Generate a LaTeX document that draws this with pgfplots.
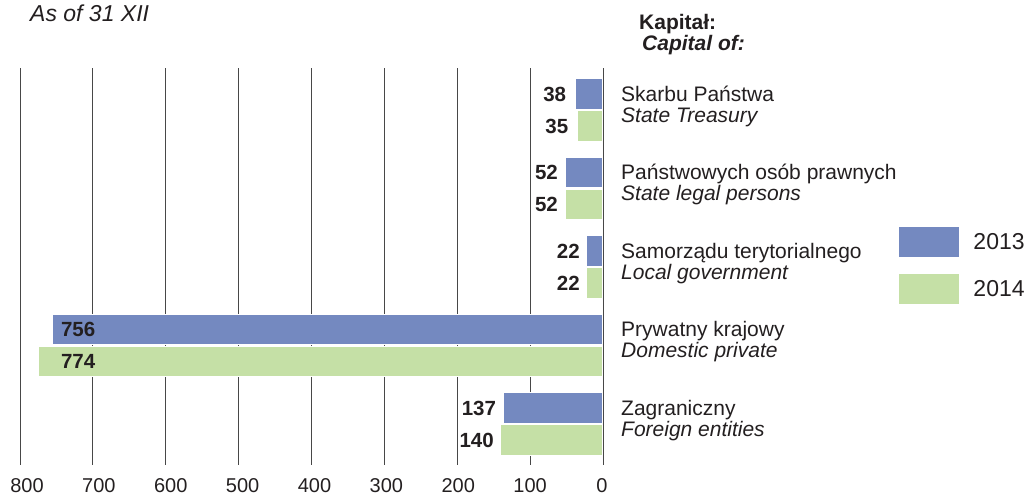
\documentclass[border=0pt]{standalone}
\usepackage{fontspec}
\setmainfont{Liberation Sans}
\usepackage{pgfplots}
\pgfplotsset{compat=1.18}
\definecolor{bblue}{RGB}{116,137,192}
\definecolor{bgreen}{RGB}{197,224,166}
\definecolor{txt}{RGB}{35,31,32}
\newcommand\cat{\fontsize{21pt}{25pt}\selectfont}
\newcommand\val{\fontsize{20.5pt}{24pt}\selectfont\bfseries}
\begin{document}
\begin{tikzpicture}
\begin{axis}[
  scale only axis, width=583pt, height=397pt,
  x dir=reverse, y dir=reverse,
  xmin=0, xmax=800, ymin=-0.535, ymax=4.522,
  xtick={0,100,...,800}, ytick=\empty,
  xmajorgrids, grid style={line width=0.9pt, color=black!72},
  axis line style={draw=none}, major tick length=0pt,
  /pgf/number format/assume math mode=true,
  tick label style={font=\fontsize{20pt}{24pt}\selectfont, text=txt},
  xticklabel style={anchor=north, inner sep=0pt, yshift=-13pt},
  xticklabel={\pgfmathparse{0.02*\tick-2}\hspace*{\pgfmathresult pt}\pgfmathprintnumber{\tick}},
  clip=false,
  xbar, bar width=0.39, bar shift=0pt,
  legend cell align=left,
  legend style={draw=none, fill=none, at={(axis description cs:1.5077,0.5995)}, anchor=north west,
    inner sep=0pt, outer sep=0pt, row sep=17pt, column sep=0pt,
    font=\fontsize{23pt}{27pt}\selectfont, text=txt, nodes={inner sep=0pt}},
  legend image code/.code={\path[#1,draw=none] (0pt,-15pt) rectangle (60pt,15pt); \path (74pt,0pt);},
]
\addplot[fill=bblue, draw=white, line width=1pt] coordinates {(38,-0.204) (52,0.796) (22,1.796) (756,2.796) (137,3.796)};
\addlegendentry{2013}
\addplot[fill=bgreen, draw=white, line width=1pt] coordinates {(35,0.204) (52,1.204) (22,2.204) (774,3.204) (140,4.204)};
\addlegendentry{2014}

% value labels
\node[anchor=east, inner sep=0pt, font=\val, text=txt, xshift=-9pt] at (axis cs:38,-0.204) {38};
\node[anchor=east, inner sep=0pt, font=\val, text=txt, xshift=-9pt] at (axis cs:35,0.204) {35};
\node[anchor=east, inner sep=0pt, font=\val, text=txt, xshift=-7pt] at (axis cs:52,0.796) {52};
\node[anchor=east, inner sep=0pt, font=\val, text=txt, xshift=-7pt] at (axis cs:52,1.204) {52};
\node[anchor=east, inner sep=0pt, font=\val, text=txt, xshift=-7pt] at (axis cs:22,1.796) {22};
\node[anchor=east, inner sep=0pt, font=\val, text=txt, xshift=-7pt] at (axis cs:22,2.204) {22};
\node[anchor=west, inner sep=0pt, font=\val, text=txt] at (axis cs:744,2.796) {756};
\node[anchor=west, inner sep=0pt, font=\val, text=txt] at (axis cs:744,3.204) {774};
\node[anchor=east, inner sep=0pt, font=\val, text=txt, xshift=-7pt] at (axis cs:137,3.796) {137};
\node[anchor=east, inner sep=0pt, font=\val, text=txt, xshift=-7pt] at (axis cs:140,4.204) {140};

% category labels
\node[anchor=base west, inner sep=0pt, font=\cat, text=txt, xshift=18pt, yshift=9pt] at (axis cs:0,0) {Skarbu Państwa};
\node[anchor=base west, inner sep=0pt, font=\cat\itshape, text=txt, xshift=18pt, yshift=-12pt] at (axis cs:0,0) {State Treasury};
\node[anchor=base west, inner sep=0pt, font=\cat, text=txt, xshift=18pt, yshift=9pt] at (axis cs:0,1) {Państwowych osób prawnych};
\node[anchor=base west, inner sep=0pt, font=\cat\itshape, text=txt, xshift=18pt, yshift=-12pt] at (axis cs:0,1) {State legal persons};
\node[anchor=base west, inner sep=0pt, font=\cat, text=txt, xshift=18pt, yshift=9pt] at (axis cs:0,2) {Samorządu terytorialnego};
\node[anchor=base west, inner sep=0pt, font=\cat\itshape, text=txt, xshift=18pt, yshift=-12pt] at (axis cs:0,2) {Local government};
\node[anchor=base west, inner sep=0pt, font=\cat, text=txt, xshift=18pt, yshift=9pt] at (axis cs:0,3) {Prywatny krajowy};
\node[anchor=base west, inner sep=0pt, font=\cat\itshape, text=txt, xshift=18pt, yshift=-12pt] at (axis cs:0,3) {Domestic private};
\node[anchor=base west, inner sep=0pt, font=\cat, text=txt, xshift=18pt, yshift=9pt] at (axis cs:0,4) {Zagraniczny};
\node[anchor=base west, inner sep=0pt, font=\cat\itshape, text=txt, xshift=18pt, yshift=-12pt] at (axis cs:0,4) {Foreign entities};
\end{axis}

\node[anchor=base west, inner sep=0pt, text=txt, font=\fontsize{23pt}{27pt}\selectfont\itshape] at (10pt,443pt) {As of 31 XII};
\node[anchor=base west, inner sep=0pt, text=txt, font=\fontsize{21pt}{25pt}\selectfont\bfseries] at (619pt,435pt) {Kapitał:};
\node[anchor=base west, inner sep=0pt, text=txt, font=\fontsize{21pt}{25pt}\selectfont\bfseries\itshape] at (622pt,414pt) {Capital of:};

\pgfresetboundingbox
\path[use as bounding box] (-20pt,-30pt) rectangle (1007pt,465pt);
\end{tikzpicture}
\end{document}
